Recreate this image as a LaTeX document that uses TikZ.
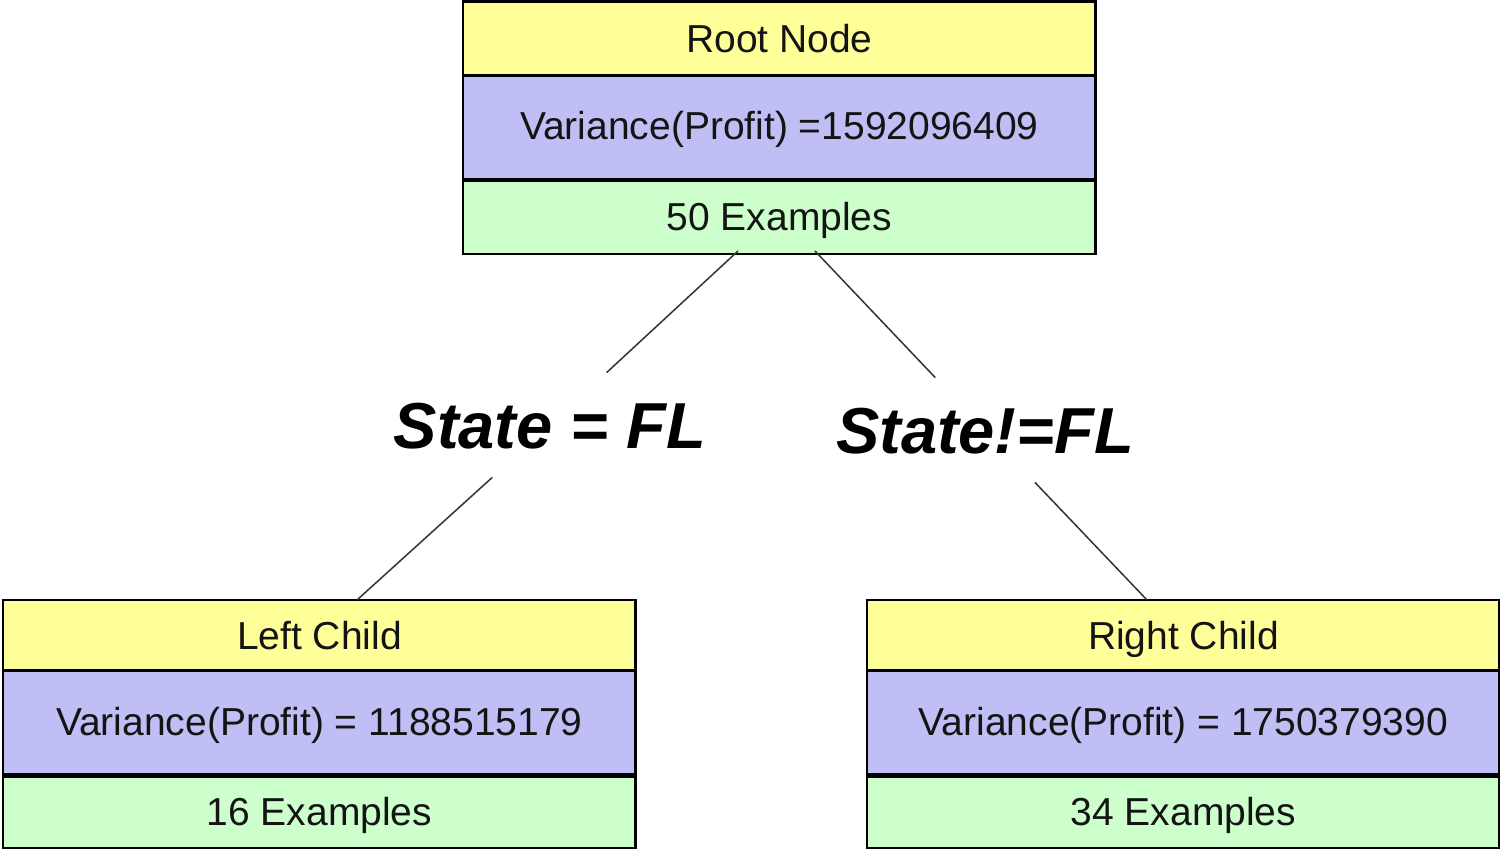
\documentclass[tikz,border=0pt]{standalone}
\usepackage{fontspec}
\setmainfont{Liberation Sans}
\definecolor{rowy}{RGB}{255,255,153}
\definecolor{rowb}{RGB}{191,191,246}
\definecolor{rowg}{RGB}{204,255,204}
\tikzset{
 row/.style={minimum width=316pt, inner sep=0pt, anchor=north west, font=\fontsize{19.5}{22}\selectfont, text=black!92, text height=14pt, text depth=0pt},
 rowtitle/.style={row, fill=rowy, minimum height=35pt},
 rowvar/.style={row, fill=rowb, minimum height=52pt, text depth=2pt},
 rowex/.style={row, fill=rowg, minimum height=36.5pt},
 frame/.style={line width=1.35pt},
 thickdiv/.style={line width=2.4pt},
 cond/.style={minimum height=52pt, minimum width=170pt, inner sep=0pt, text height=23.5pt, text depth=0pt, font=\fontsize{32.5}{36}\selectfont\bfseries\itshape},
 conn/.style={line width=0.75pt, draw=black!80},
}
\newcommand\splitbox[5]{%
 \node[rowtitle] (#1t) at #2 {#3};
 \node[rowvar] (#1v) at (#1t.south west) {#4};
 \node[rowex] (#1e) at (#1v.south west) {#5};
 \draw[frame] (#1t.north west) rectangle (#1e.south east);
 \draw[frame] (#1v.north west) -- (#1v.north east);
 \draw[thickdiv] (#1e.north west) -- (#1e.north east);
}
\begin{document}
\begin{tikzpicture}[x=0.5pt,y=-0.5pt]
\useasboundingbox (0,0) rectangle (1500,849);
\begin{scope}
\tikzset{rowtitle/.append style={minimum height=36.5pt}}
\splitbox{root}{(463,1.5)}{Root Node}{Variance(Profit) =1592096409}{50 Examples}
\end{scope}
\begin{scope}
\tikzset{rowex/.append style={minimum height=36pt}}
\splitbox{left}{(3,600)}{Left Child}{Variance(Profit) = 1188515179}{16 Examples}
\splitbox{right}{(867,600)}{Right Child}{Variance(Profit) = 1750379390}{34 Examples}
\end{scope}
\node[cond] (condL) at (550,425) {State = FL};
\node[cond] (condR) at (985,430) {State!=FL};
\coordinate (rootL) at (738,251);
\coordinate (rootR) at (815,251);
\coordinate (leftTop) at (357,600);
\coordinate (rightTop) at (1147,600);
\draw[conn] (rootL) -- (condL);
\draw[conn] (condL) -- (leftTop);
\draw[conn] (rootR) -- (condR);
\draw[conn] (condR) -- (rightTop);
\end{tikzpicture}
\end{document}
